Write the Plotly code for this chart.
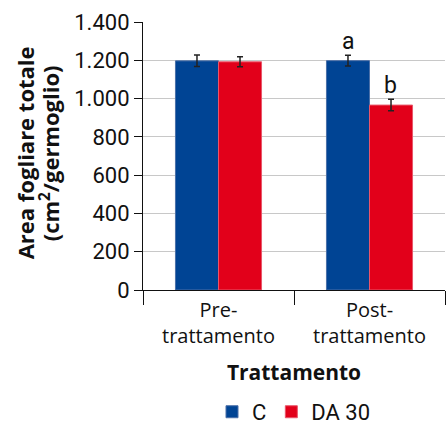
import plotly.graph_objects as go

categories = ["Pre-<br>trattamento", "Post-<br>trattamento"]
series_names = ["C", "DA 30"]
values_c = [1197, 1198]
values_da = [1192, 966]
err_c = [30, 28]
err_da = [26, 30]
letters_c = ["", "a"]
letters_da = ["", "b"]
y_ticks = [0, 200, 400, 600, 800, 1000, 1200, 1400]

NUM = "Roboto, sans-serif"
SANS = "Open Sans, sans-serif"

fig = go.Figure()
fig.add_trace(go.Bar(
    name=series_names[0], x=categories, y=values_c,
    marker=dict(color="#004494", line=dict(color="#4a6fa8", width=1)),
    error_y=dict(type="data", array=err_c, color="#222222", thickness=1.5, width=3),
))
fig.add_trace(go.Bar(
    name=series_names[1], x=categories, y=values_da,
    marker=dict(color="#e2001a", line=dict(color="#e8566a", width=1)),
    error_y=dict(type="data", array=err_da, color="#222222", thickness=1.5, width=3),
))

# significance letters
for i, cat in enumerate(categories):
    if letters_c[i]:
        fig.add_annotation(x=cat, y=values_c[i] + err_c[i], text=letters_c[i],
                           xshift=-21, yshift=-2, showarrow=False, yanchor="bottom",
                           font=dict(family=NUM, size=23, color="#111"))
    if letters_da[i]:
        fig.add_annotation(x=cat, y=values_da[i] + err_da[i], text=letters_da[i],
                           xshift=21, yshift=-2, showarrow=False, yanchor="bottom",
                           font=dict(family=NUM, size=23, color="#111"))

# y-axis title (two lines)
fig.add_annotation(xref="paper", yref="paper", x=0, y=0.51, xshift=-118, xanchor="center",
                   yanchor="middle",
                   text="<b>Area fogliare totale</b>", textangle=-90, showarrow=False,
                   font=dict(family=SANS, size=22, color="#111"))
fig.add_annotation(xref="paper", yref="paper", x=0, y=0.51, xshift=-94, xanchor="center",
                   yanchor="middle",
                   text="<b>(cm<sup>2</sup>/germoglio)</b>", textangle=-90, showarrow=False,
                   font=dict(family=SANS, size=22, color="#111"))

fig.update_layout(
    width=447, height=426,
    margin=dict(l=143, r=2, t=22, b=136, autoexpand=False),
    paper_bgcolor="white", plot_bgcolor="white",
    barmode="group", bargap=0.43, bargroupgap=0,
    separators=",.",
    showlegend=True,
    legend=dict(orientation="h", x=0.5, xanchor="center", y=-0.455, yanchor="middle",
                font=dict(family=NUM, size=22, color="#111"), itemwidth=30,
                traceorder="normal"),
    xaxis=dict(
        showline=True, linecolor="#111", linewidth=1.2,
        ticks="outside", tickson="boundaries", ticklen=14, tickcolor="#111",
        tickfont=dict(family=SANS, size=20, color="#111"),
        ticklabelstandoff=2,
        title=dict(text="<b>Trattamento</b>", font=dict(family=SANS, size=21, color="#111"), standoff=17),
    ),
    yaxis=dict(
        range=[0, 1400], tickvals=y_ticks, tickformat=",d",
        showline=True, linecolor="#111", linewidth=1.2,
        ticks="outside", ticklen=8, tickcolor="#111",
        showgrid=True, gridcolor="#c8c8c8", gridwidth=1.2,
        zeroline=False,
        tickfont=dict(family=NUM, size=22, color="#111"),
    ),
)

fig.write_html("out.html", config={"displayModeBar": False},
               post_script="document.body.style.margin='0';document.body.style.overflow='hidden';")
